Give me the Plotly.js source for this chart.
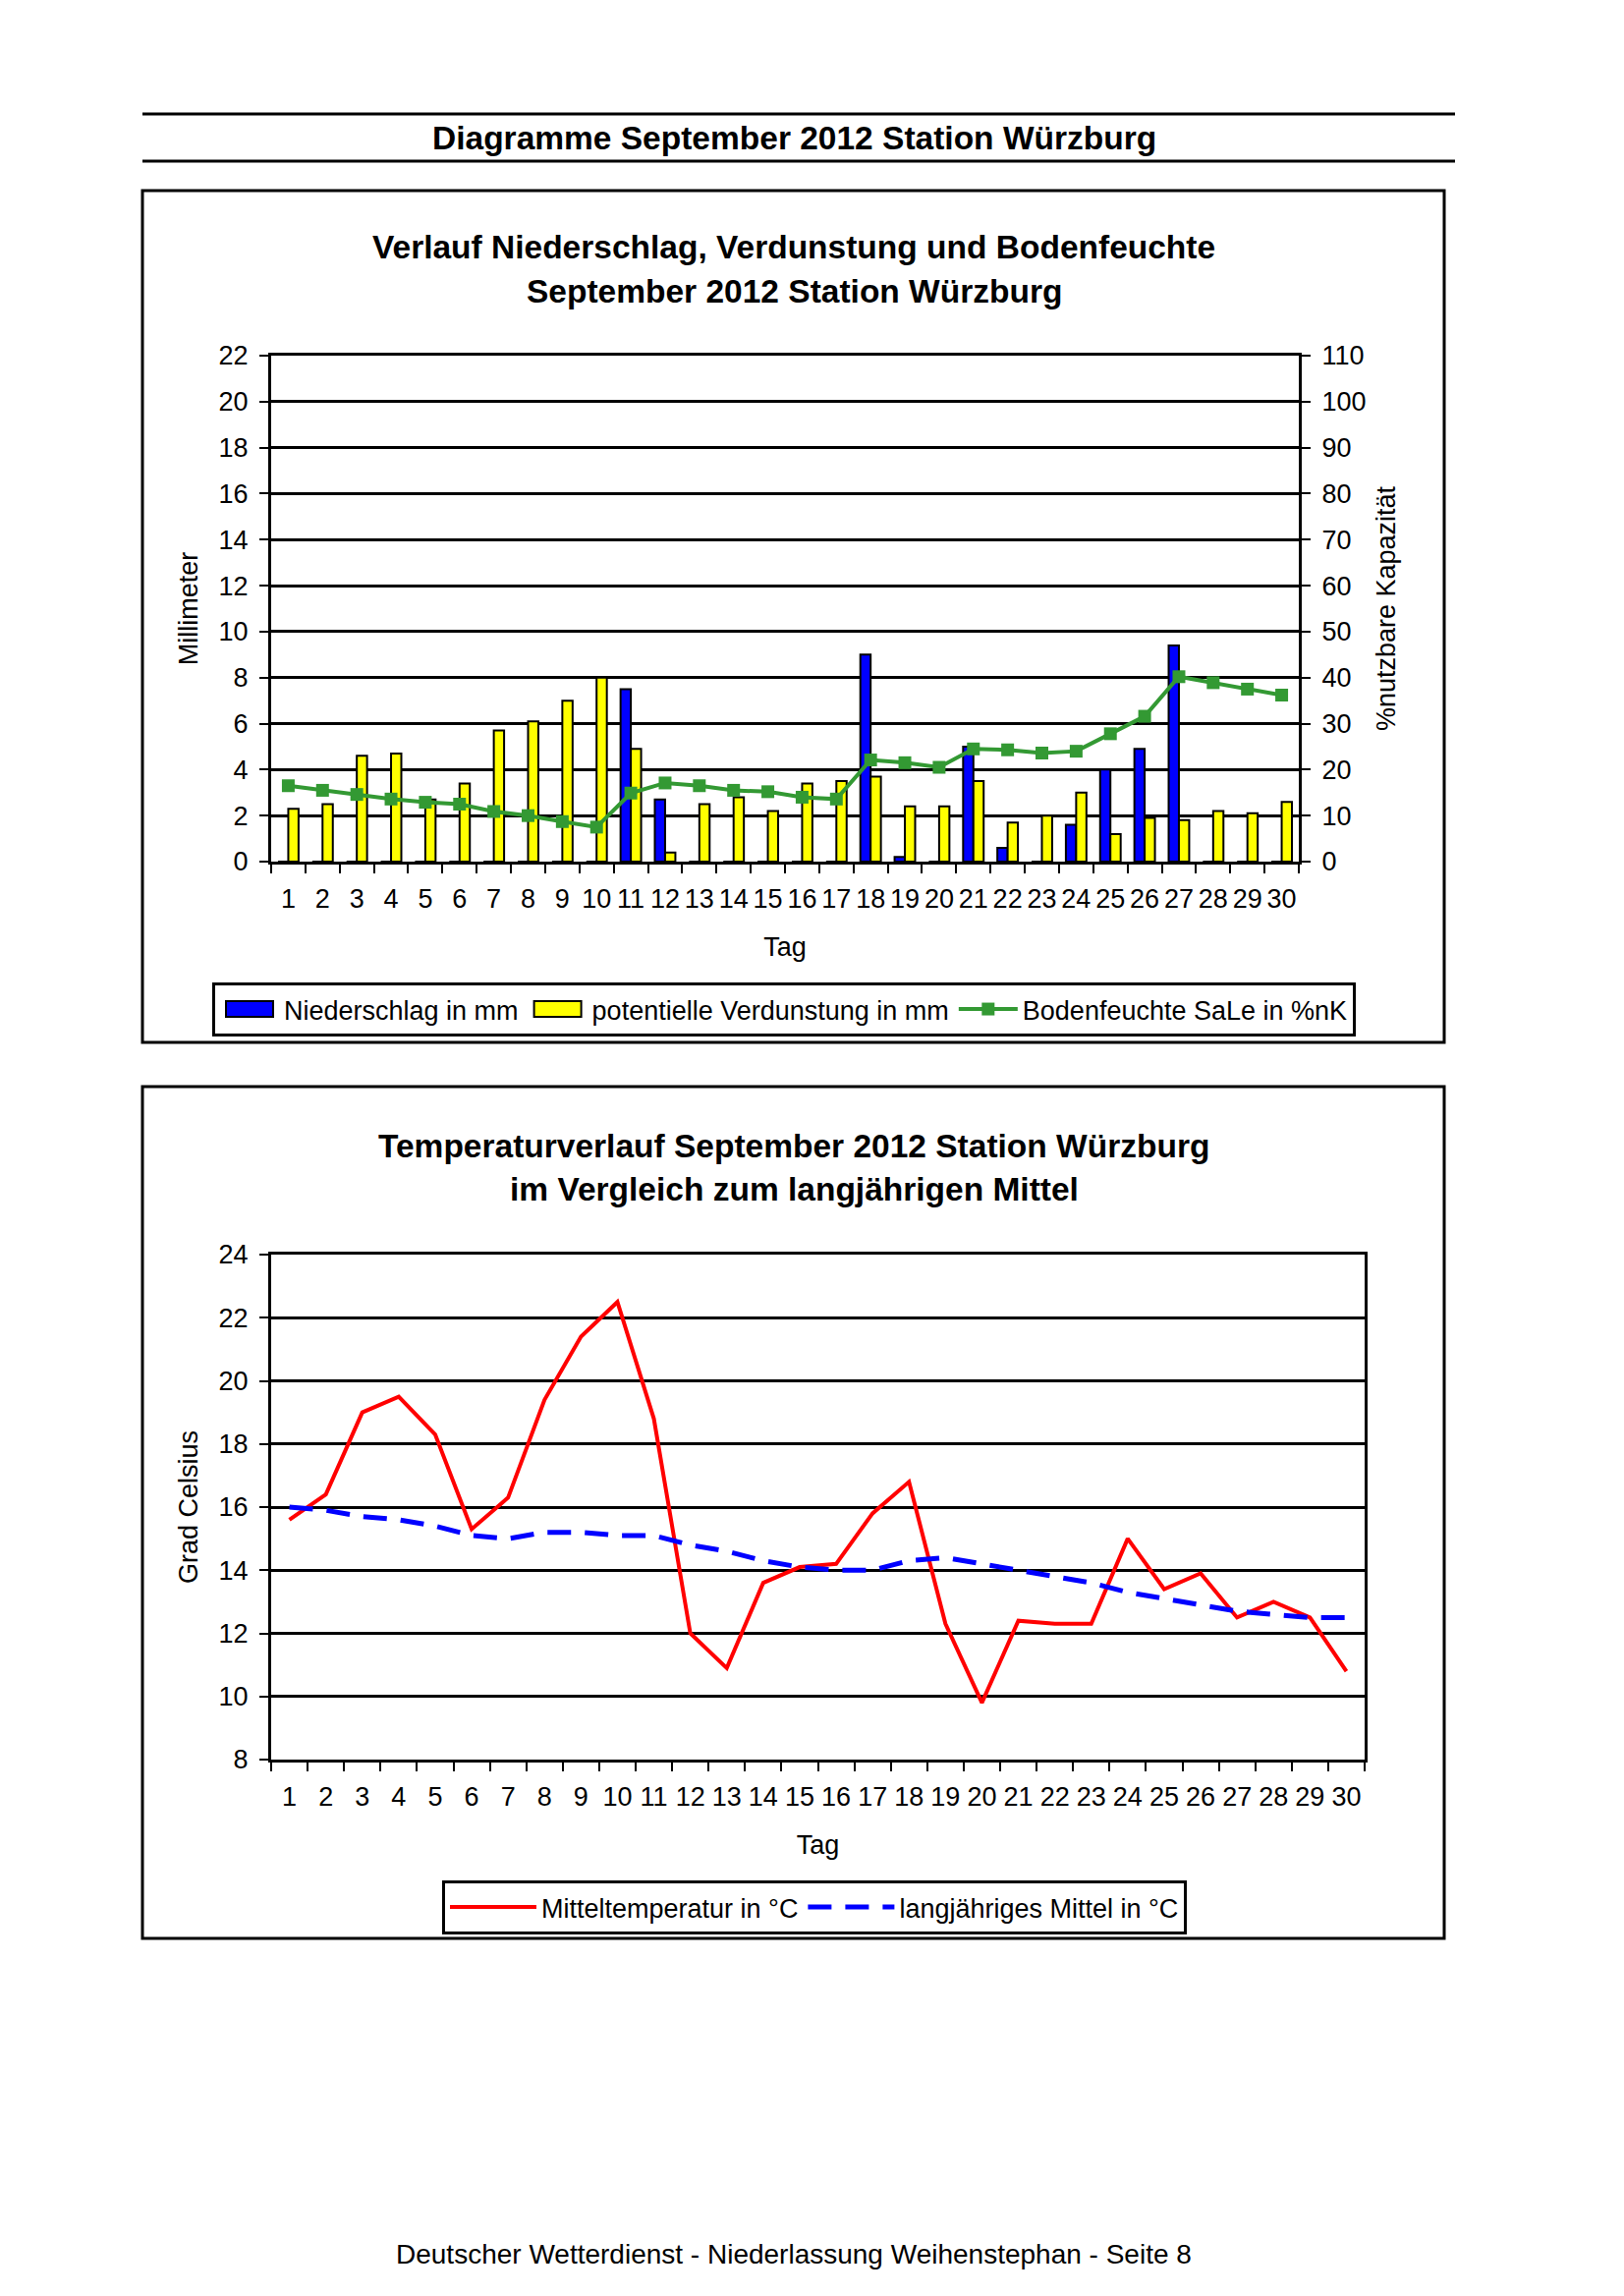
<!DOCTYPE html>
<html><head><meta charset="utf-8">
<script src="https://cdn.plot.ly/plotly-3.0.1.min.js"></script>
<style>html,body{margin:0;padding:0;background:#fff}</style>
</head><body>
<div id="chart" style="width:1653px;height:2337px"></div>
<script>
// ---- data ----
const days = ['1','2','3','4','5','6','7','8','9','10','11','12','13','14','15','16','17','18','19','20','21','22','23','24','25','26','27','28','29','30'];
const niederschlag = [0,0,0,0,0,0,0,0,0,0,7.5,2.7,0,0,0,0,0,9.0,0.2,0,5.0,0.6,0,1.6,4.0,4.9,9.4,0,0,0];
const verdunstung = [2.3,2.5,4.6,4.7,2.7,3.4,5.7,6.1,7.0,8.0,4.9,0.4,2.5,2.8,2.2,3.4,3.5,3.7,2.4,2.4,3.5,1.7,2.0,3.0,1.2,1.9,1.8,2.2,2.1,2.6];
const bodenfeuchte = [16.5,15.5,14.6,13.6,12.9,12.5,10.9,10.0,8.7,7.5,14.9,17.1,16.5,15.5,15.2,14.0,13.6,22.1,21.5,20.5,24.5,24.3,23.6,24.0,27.8,31.6,40.2,38.9,37.5,36.2];
const mitteltemp = [15.6,16.4,19.0,19.5,18.3,15.3,16.3,19.4,21.4,22.5,18.8,12.0,10.9,13.6,14.1,14.2,15.8,16.8,12.3,9.8,12.4,12.3,12.3,15.0,13.4,13.9,12.5,13.0,12.5,10.8];
const langMittel = [16.0,15.9,15.7,15.6,15.4,15.1,15.0,15.2,15.2,15.1,15.1,14.8,14.6,14.3,14.1,14.0,14.0,14.3,14.4,14.2,14.0,13.8,13.6,13.3,13.1,12.9,12.7,12.6,12.5,12.5];

const seriesNames = ['Niederschlag in mm','potentielle Verdunstung in mm','Bodenfeuchte SaLe in %nK','Mitteltemperatur in °C','langjähriges Mittel in °C'];
const headerText = 'Diagramme September 2012 Station Würzburg';
const title1 = ['Verlauf Niederschlag, Verdunstung und Bodenfeuchte','September 2012 Station Würzburg'];
const title2 = ['Temperaturverlauf September 2012 Station Würzburg','im Vergleich zum langjährigen Mittel'];
const footerText = 'Deutscher Wetterdienst - Niederlassung Weihenstephan - Seite 8';

// ---- layout helpers ----
const W = 1653, H = 2337;
const px = v => v / W;
const py = v => 1 - v / H;
const FONT = 'Liberation Sans, Arial, sans-serif';
const FS = 27;
const TFS = 33.5;

const traces = [
  {type:'bar', name:seriesNames[0], x:days, y:niederschlag, xaxis:'x', yaxis:'y',
   marker:{color:'#0000FF', line:{color:'#000', width:2}}, legend:'legend'},
  {type:'bar', name:seriesNames[1], x:days, y:verdunstung, xaxis:'x', yaxis:'y',
   marker:{color:'#FFFF00', line:{color:'#000', width:2}}, legend:'legend'},
  {type:'scatter', mode:'lines+markers', name:seriesNames[2], x:days, y:bodenfeuchte, xaxis:'x', yaxis:'y2',
   line:{color:'#339933', width:4}, marker:{symbol:'square', size:13, color:'#339933'}, legend:'legend'},
  {type:'scatter', mode:'lines', name:seriesNames[3], x:days, y:mitteltemp, xaxis:'x2', yaxis:'y3',
   line:{color:'#FF0000', width:4}, legend:'legend2'},
  {type:'scatter', mode:'lines', name:seriesNames[4], x:days, y:langMittel, xaxis:'x2', yaxis:'y3',
   line:{color:'#0000FF', width:5, dash:'24px,14px'}, legend:'legend2'}
];

const tickStyle = {ticks:'outside', ticklen:9, tickwidth:2, tickcolor:'#000', showline:true, linecolor:'#000', linewidth:3,
  tickfont:{size:FS, color:'#000', family:FONT}, zeroline:false};

const xCommon = {type:'category', tickson:'boundaries', tickmode:'linear', dtick:1, tickangle:0,
  range:[-0.5, 29.5], autorange:false, showgrid:false, mirror:true, ticklabelstandoff:12};

const layout = {
  width:W, height:H, margin:{l:0,r:0,t:0,b:0}, paper_bgcolor:'#fff', plot_bgcolor:'#fff',
  font:{family:FONT, size:FS, color:'#000'},
  barmode:'group', bargap:0.4, bargroupgap:0,
  xaxis:Object.assign({}, tickStyle, xCommon, {domain:[px(276), px(1322)], anchor:'y',
    title:{text:'Tag', font:{size:FS}, standoff:25}}),
  yaxis:Object.assign({}, tickStyle, {domain:[py(877), py(362)], anchor:'x', range:[0,22], dtick:2, tick0:0,
    showgrid:true, gridcolor:'#000', gridwidth:3, ticklabelstandoff:6, title:{text:'Millimeter', font:{size:FS}, standoff:14}}),
  yaxis2:Object.assign({}, tickStyle, {overlaying:'y', anchor:'x', side:'right', range:[0,110], dtick:10, tick0:0,
    showgrid:false, ticklabelstandoff:6, title:{text:'%nutzbare Kapazität', font:{size:FS}, standoff:12}}),
  xaxis2:Object.assign({}, tickStyle, xCommon, {domain:[px(276), px(1389)], anchor:'y3',
    title:{text:'Tag', font:{size:FS}, standoff:25}}),
  yaxis3:Object.assign({}, tickStyle, {domain:[py(1791), py(1277)], anchor:'x2', range:[8,24], dtick:2, tick0:8,
    mirror:true, showgrid:true, gridcolor:'#000', gridwidth:3, ticklabelstandoff:6,
    title:{text:'Grad Celsius', font:{size:FS}, standoff:14}}),
  legend:{orientation:'h', x:px(798), xanchor:'center', y:py(1000), yanchor:'top', bgcolor:'#fff',
    bordercolor:'#000', borderwidth:3, font:{size:FS}, itemwidth:60, tracegroupgap:0},
  legend2:{orientation:'h', x:px(829), xanchor:'center', y:py(1914), yanchor:'top', bgcolor:'#fff',
    bordercolor:'#000', borderwidth:3, font:{size:FS}, itemwidth:88},
  shapes:[
    {type:'line', xref:'paper', yref:'paper', x0:px(145), x1:px(1481), y0:py(116), y1:py(116), line:{color:'#000', width:3}},
    {type:'line', xref:'paper', yref:'paper', x0:px(145), x1:px(1481), y0:py(164), y1:py(164), line:{color:'#000', width:3}},
    {type:'rect', xref:'paper', yref:'paper', x0:px(145), x1:px(1470), y0:py(194), y1:py(1061), line:{color:'#000', width:3}},
    {type:'rect', xref:'paper', yref:'paper', x0:px(145), x1:px(1470), y0:py(1106), y1:py(1973), line:{color:'#000', width:3}}
  ],
  annotations:[
    {text:'<b>'+headerText+'</b>', xref:'paper', yref:'paper', x:px(808), y:py(140), showarrow:false, font:{size:TFS}, xanchor:'center', yanchor:'middle'},
    {text:'<b>'+title1[0]+'</b>', xref:'paper', yref:'paper', x:px(808), y:py(251), showarrow:false, font:{size:TFS}, xanchor:'center', yanchor:'middle'},
    {text:'<b>'+title1[1]+'</b>', xref:'paper', yref:'paper', x:px(808), y:py(296), showarrow:false, font:{size:TFS}, xanchor:'center', yanchor:'middle'},
    {text:'<b>'+title2[0]+'</b>', xref:'paper', yref:'paper', x:px(808), y:py(1166), showarrow:false, font:{size:TFS}, xanchor:'center', yanchor:'middle'},
    {text:'<b>'+title2[1]+'</b>', xref:'paper', yref:'paper', x:px(808), y:py(1210), showarrow:false, font:{size:TFS}, xanchor:'center', yanchor:'middle'},
    {text:footerText, xref:'paper', yref:'paper', x:px(808), y:py(2294), showarrow:false, font:{size:28}, xanchor:'center', yanchor:'middle'}
  ]
};

function widenBarSwatches(){
  // widen the bar swatches in the legend to a rectangle like the original
  document.querySelectorAll('g.legendpoints path').forEach(function(p){
    var d = (p.getAttribute('d') || '').replace(/\s/g, '');
    if (d === 'M6,6H-6V-6H6Z' || p.classList.contains('legendundefined') || p.classList.contains('legendbar')) {
      p.setAttribute('d', 'M-24,8H24V-8H-24Z');
    }
  });
}
Plotly.newPlot('chart', traces, layout, {staticPlot:true, displayModeBar:false}).then(function(){
  widenBarSwatches();
  setTimeout(widenBarSwatches, 0);
  setTimeout(widenBarSwatches, 200);
});
</script>
</body></html>
